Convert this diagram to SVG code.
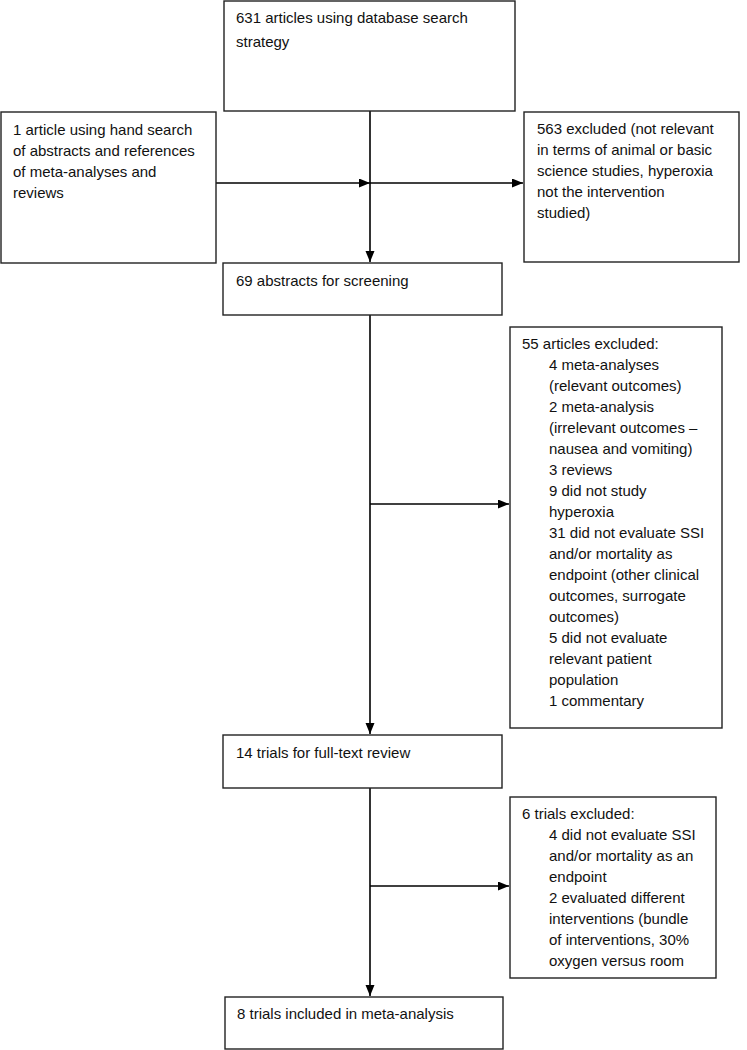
<svg xmlns="http://www.w3.org/2000/svg" width="747" height="1050" viewBox="0 0 747 1050">
<style>
.box{fill:#fff;stroke:#222;stroke-width:1.4}
.t{font-family:"Liberation Sans",Arial,sans-serif;font-size:15px;fill:#111}
.c{fill:none;stroke:#000;stroke-width:1.6}
</style>
<defs>
<marker id="ah" markerUnits="userSpaceOnUse" markerWidth="12" markerHeight="10" refX="11" refY="4.5" orient="auto">
<path d="M0,0 L11,4.5 L0,9 z" fill="#000"/>
</marker>
</defs>
<rect width="747" height="1050" fill="#fff"/>
<g id="connectors">
<line class="c" x1="370" y1="111" x2="370" y2="262" marker-end="url(#ah)"/>
<line class="c" x1="216" y1="183" x2="370" y2="183" marker-end="url(#ah)"/>
<line class="c" x1="370" y1="183" x2="523" y2="183" marker-end="url(#ah)"/>
<line class="c" x1="370" y1="315" x2="370" y2="734" marker-end="url(#ah)"/>
<line class="c" x1="370" y1="504" x2="509" y2="504" marker-end="url(#ah)"/>
<line class="c" x1="370" y1="788" x2="370" y2="996" marker-end="url(#ah)"/>
<line class="c" x1="370" y1="886" x2="509" y2="886" marker-end="url(#ah)"/>
</g>
<g id="n1">
<rect class="box" x="224" y="1" width="291" height="110"/>
<text class="t" x="236" y="23">631 articles using database search</text>
<text class="t" x="236" y="47">strategy</text>
</g>
<g id="n2">
<rect class="box" x="1" y="112" width="215" height="151"/>
<text class="t" x="13" y="135">1 article using hand search</text>
<text class="t" x="13" y="156">of abstracts and references</text>
<text class="t" x="13" y="177">of meta-analyses and</text>
<text class="t" x="13" y="198">reviews</text>
</g>
<g id="n3">
<rect class="box" x="524" y="112" width="215" height="150"/>
<text class="t" x="537" y="134">563 excluded (not relevant</text>
<text class="t" x="537" y="155">in terms of animal or basic</text>
<text class="t" x="537" y="176">science studies, hyperoxia</text>
<text class="t" x="537" y="197">not the intervention</text>
<text class="t" x="537" y="218">studied)</text>
</g>
<g id="n4">
<rect class="box" x="223" y="263" width="279" height="52"/>
<text class="t" x="236" y="286">69 abstracts for screening</text>
</g>
<g id="n5">
<rect class="box" x="510" y="327" width="212" height="401"/>
<text class="t" x="522" y="349">55 articles excluded:</text>
<text class="t" x="549" y="370">4 meta-analyses</text>
<text class="t" x="549" y="391">(relevant outcomes)</text>
<text class="t" x="549" y="412">2 meta-analysis</text>
<text class="t" x="549" y="433">(irrelevant outcomes –</text>
<text class="t" x="549" y="454">nausea and vomiting)</text>
<text class="t" x="549" y="475">3 reviews</text>
<text class="t" x="549" y="496">9 did not study</text>
<text class="t" x="549" y="517">hyperoxia</text>
<text class="t" x="549" y="538">31 did not evaluate SSI</text>
<text class="t" x="549" y="559">and/or mortality as</text>
<text class="t" x="549" y="580">endpoint (other clinical</text>
<text class="t" x="549" y="601">outcomes, surrogate</text>
<text class="t" x="549" y="622">outcomes)</text>
<text class="t" x="549" y="643">5 did not evaluate</text>
<text class="t" x="549" y="664">relevant patient</text>
<text class="t" x="549" y="685">population</text>
<text class="t" x="549" y="706">1 commentary</text>
</g>
<g id="n6">
<rect class="box" x="223" y="735" width="279" height="53"/>
<text class="t" x="236" y="758">14 trials for full-text review</text>
</g>
<g id="n7">
<rect class="box" x="510" y="797" width="206" height="181"/>
<text class="t" x="522" y="819">6 trials excluded:</text>
<text class="t" x="549" y="840">4 did not evaluate SSI</text>
<text class="t" x="549" y="861">and/or mortality as an</text>
<text class="t" x="549" y="882">endpoint</text>
<text class="t" x="549" y="903">2 evaluated different</text>
<text class="t" x="549" y="924">interventions (bundle</text>
<text class="t" x="549" y="945">of interventions, 30%</text>
<text class="t" x="549" y="966">oxygen versus room</text>
</g>
<g id="n8">
<rect class="box" x="225" y="997" width="278" height="52"/>
<text class="t" x="237" y="1019">8 trials included in meta-analysis</text>
</g>
</svg>
